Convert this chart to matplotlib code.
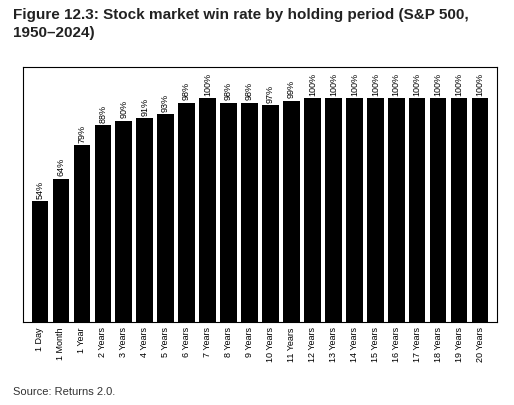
import matplotlib
matplotlib.use("Agg")
import matplotlib.pyplot as plt

categories = ["1 Day", "1 Month", "1 Year"] + [f"{i} Years" for i in range(2, 21)]
values = [54, 64, 79, 88, 90, 91, 93, 98, 100, 98, 98, 97, 99] + [100] * 9

plt.rcParams['font.family'] = ['Liberation Sans', 'DejaVu Sans']
fig = plt.figure(figsize=(5.14, 4.06), dpi=100)
ax = fig.add_axes([23/514, 1 - 323/406, (497-23)/514, (323-68)/406])
x = range(len(categories))
ax.bar(x, values, width=0.78, color="black")
for xi, v in zip(x, values):
    ax.text(xi, v + 1.5, f"{v}%", rotation=90, ha="center", va="bottom", fontsize=6.5)
ax.set_ylim(0, 114)
ax.set_xlim(-0.8, len(categories) - 0.2)
ax.set_yticks([])
ax.set_xticks(list(x))
ax.set_xticklabels(categories, rotation=90, fontsize=6.5)
ax.tick_params(axis="x", length=0, pad=3)
for s in ax.spines.values():
    s.set_linewidth(0.8)
fig.text(13/514, 1 - 8/406, "Figure 12.3: Stock market win rate by holding period (S&P 500,\n1950–2024)",
         fontsize=11, fontweight="bold", ha="left", va="top", color="#222222", linespacing=1.35)
fig.text(13/514, 1 - 392/406, "Source: Returns 2.0.", fontsize=8, ha="left", va="center", color="#333333")
fig.savefig("out.png", dpi=100)
